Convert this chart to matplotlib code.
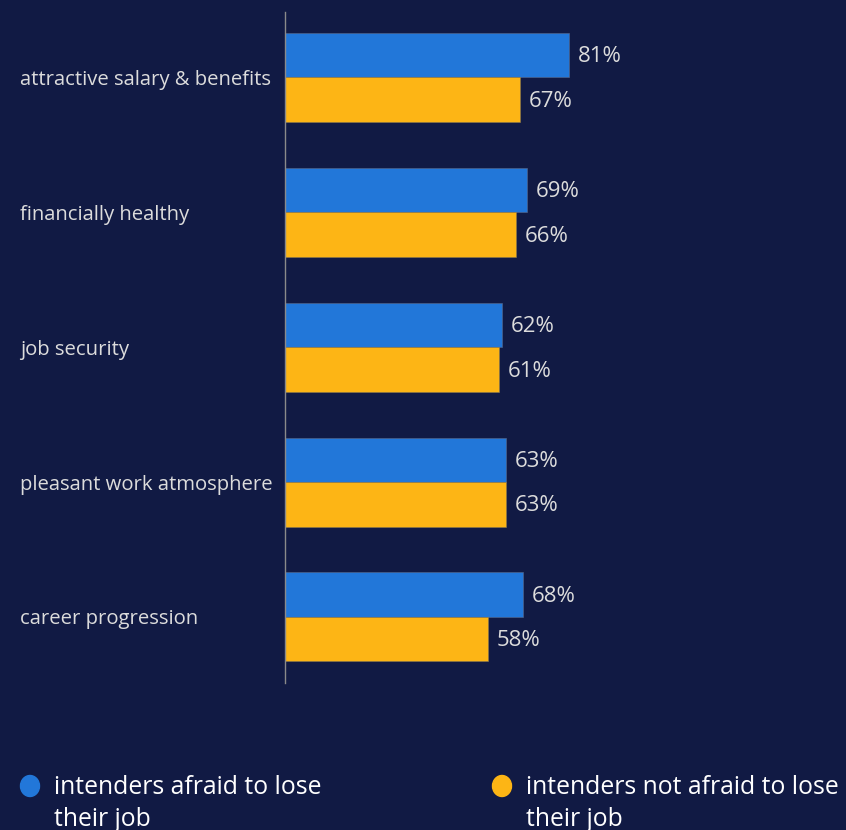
import matplotlib.pyplot as plt
from matplotlib.patches import Ellipse

categories = ["attractive salary & benefits", "financially healthy", "job security",
              "pleasant work atmosphere", "career progression"]
afraid = [81, 69, 62, 63, 68]
not_afraid = [67, 66, 61, 63, 58]
series_names = ["intenders afraid to lose\ntheir job", "intenders not afraid to lose\ntheir job"]

BG = "#111a44"
BLUE = "#2277d9"
YELLOW = "#fdb515"
TXT = "#dcdcdc"

plt.rcParams['font.family'] = ['Open Sans', 'DejaVu Sans']

fig = plt.figure(figsize=(8.46, 8.30), dpi=100, facecolor=BG)
ax = fig.add_axes([285 / 846, 1 - 683 / 830, 561 / 846, 671 / 830])
ax.set_facecolor(BG)

h = 0.33
for i, (a, b) in enumerate(zip(afraid, not_afraid)):
    ax.barh(i - h / 2, a, height=h, color=BLUE, edgecolor="#5a6a8a", linewidth=0.4)
    ax.barh(i + h / 2, b, height=h, color=YELLOW, edgecolor="#8a7a50", linewidth=0.4)
    ax.text(a + 2.4, i - h / 2 + 0.012, f"{a}%", va="center", ha="left", color=TXT, fontsize=16)
    ax.text(b + 2.4, i + h / 2 + 0.012, f"{b}%", va="center", ha="left", color=TXT, fontsize=16)

ax.set_xlim(0, 160)
ax.set_ylim(len(categories) - 1 + 0.49, -0.485)
ax.set_xticks([])
ax.set_yticks(range(len(categories)))
ax.set_yticklabels(categories, color=TXT, fontsize=14.6)
ax.tick_params(axis="y", length=0, pad=0)
for lbl in ax.get_yticklabels():
    lbl.set_horizontalalignment("left")
    lbl.set_x(-265 / 561)
for s in ["top", "right", "bottom"]:
    ax.spines[s].set_visible(False)
ax.spines["left"].set_color("#8a8a8a")
ax.spines["left"].set_linewidth(1)

# legend drawn by hand in figure pixel coordinates
for (x0, col), name in zip([(30, BLUE), (502, YELLOW)], series_names):
    fig.patches.append(Ellipse((x0 / 846, 1 - 786 / 830), 19 / 846, 21 / 830,
                               transform=fig.transFigure, color=col))
    fig.text((x0 + 24) / 846, 1 - 775 / 830, name, color="white", fontsize=17.8,
             va="top", ha="left", linespacing=1.38)

fig.savefig("out.png", dpi=100, facecolor=BG)
